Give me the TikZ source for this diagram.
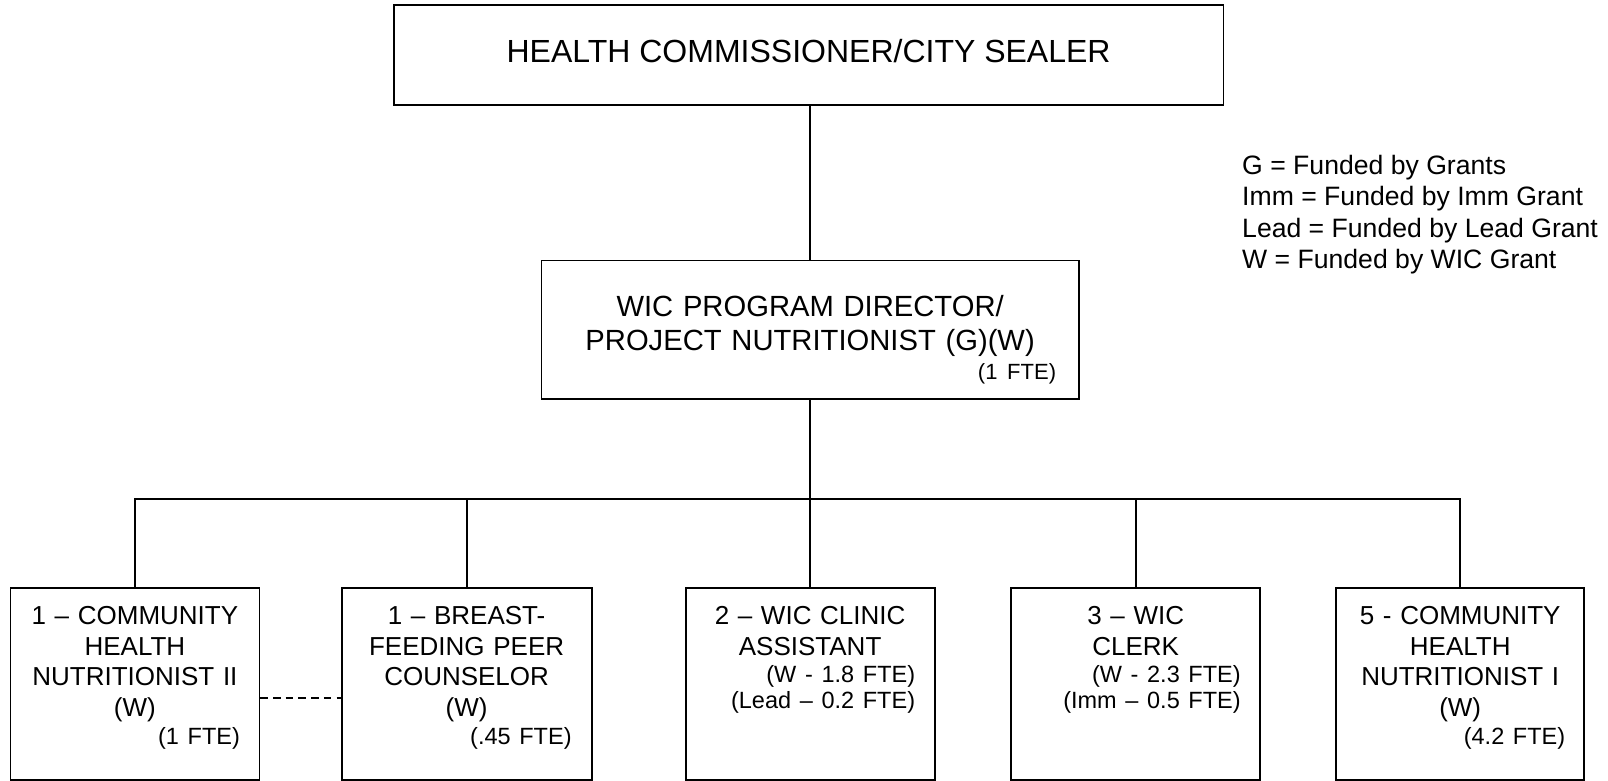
\documentclass[tikz,border=0pt]{standalone}
\usepackage{fontspec}
\setmainfont{Liberation Sans}
\begin{document}
\begin{tikzpicture}[x=1pt,y=-1pt,
  orgbox/.style={draw=black, line width=1.8pt, inner sep=0pt},
  link/.style={draw=black, line width=1.9pt},
  boxtext/.style={inner sep=0pt, align=center, text width=210pt, anchor=north, font=\fontsize{26}{30.5}\selectfont},
]
\fill[white] (0,0) rectangle (1608,781);
\useasboundingbox (0,0) rectangle (1608,781);

% boxes
\node[orgbox, minimum width=829.6pt, minimum height=99.5pt] (top) at (808.6,54.9) {};
\node[orgbox, minimum width=537.3pt, minimum height=138.4pt] (mid) at (810.1,329.7) {};
\node[orgbox, minimum width=249pt, minimum height=192pt] (b1) at (134.9,683.6) {};
\node[orgbox, minimum width=250pt, minimum height=192pt] (b2) at (466.6,683.6) {};
\node[orgbox, minimum width=249pt, minimum height=192pt] (b3) at (810.1,683.6) {};
\node[orgbox, minimum width=249pt, minimum height=192pt] (b4) at (1135.7,683.6) {};
\node[orgbox, minimum width=248pt, minimum height=192pt] (b5) at (1460.2,683.6) {};

% texts
\node[font=\fontsize{32}{37}\selectfont, inner sep=0pt, anchor=base] (toptext) at (808.6,62.8) {HEALTH COMMISSIONER/CITY SEALER};

\node[boxtext, text width=492pt, font=\fontsize{29.2}{34}\selectfont] (midtext) at ([yshift=-35.6pt]mid.north)
  {WIC PROGRAM DIRECTOR/\\PROJECT NUTRITIONIST (G)(W)\\[-5.5pt]{\fontsize{22}{25}\selectfont\makebox[\linewidth][r]{(1 FTE)}}};

\node[boxtext] (t1) at ([yshift=-19.5pt]b1.north)
  {1 – COMMUNITY\\HEALTH\\NUTRITIONIST II\\(W)\\[-2pt]{\fontsize{23.5}{27}\selectfont\makebox[\linewidth][r]{(1 FTE)}}};
\node[boxtext] (t2) at ([yshift=-19.5pt]b2.north)
  {1 – BREAST-\\FEEDING PEER\\COUNSELOR\\(W)\\[-2pt]{\fontsize{23.5}{27}\selectfont\makebox[\linewidth][r]{(.45 FTE)}}};
\node[boxtext] (t3) at ([yshift=-19.5pt]b3.north)
  {2 – WIC CLINIC\\ASSISTANT\\[-2.7pt]{\fontsize{23.5}{27}\selectfont\makebox[\linewidth][r]{(W - 1.8 FTE)}}\\[-4.4pt]{\fontsize{23.5}{27}\selectfont\makebox[\linewidth][r]{(Lead – 0.2 FTE)}}};
\node[boxtext] (t4) at ([yshift=-19.5pt]b4.north)
  {3 – WIC\\CLERK\\[-2.7pt]{\fontsize{23.5}{27}\selectfont\makebox[\linewidth][r]{(W - 2.3 FTE)}}\\[-4.4pt]{\fontsize{23.5}{27}\selectfont\makebox[\linewidth][r]{(Imm – 0.5 FTE)}}};
\node[boxtext] (t5) at ([yshift=-19.5pt]b5.north)
  {5 - COMMUNITY\\HEALTH\\NUTRITIONIST I\\(W)\\[-2pt]{\fontsize{23.5}{27}\selectfont\makebox[\linewidth][r]{(4.2 FTE)}}};

\node[inner sep=0pt, anchor=north west, align=left, font=\fontsize{26.6}{31.5}\selectfont] (legend) at (1242,154.7)
  {G = Funded by Grants\\Imm = Funded by Imm Grant\\Lead = Funded by Lead Grant\\W = Funded by WIC Grant};

% connectors
\coordinate (bus) at (810.1,499.4);
\draw[link] (mid.north |- top.south) -- (mid.north);
\draw[link] (mid.south) -- (bus);
\draw[link] (b1.north) |- (bus) -| (b5.north);
\draw[link] (b2.north) -- (b2.north |- bus);
\draw[link] (b3.north) -- (b3.north |- bus);
\draw[link] (b4.north) -- (b4.north |- bus);
\draw[link, line width=1.4pt, dash pattern=on 7.5pt off 5.2pt] ([yshift=-14.5pt]b1.east) -- ([yshift=-14.5pt]b2.west);
\end{tikzpicture}
\end{document}
